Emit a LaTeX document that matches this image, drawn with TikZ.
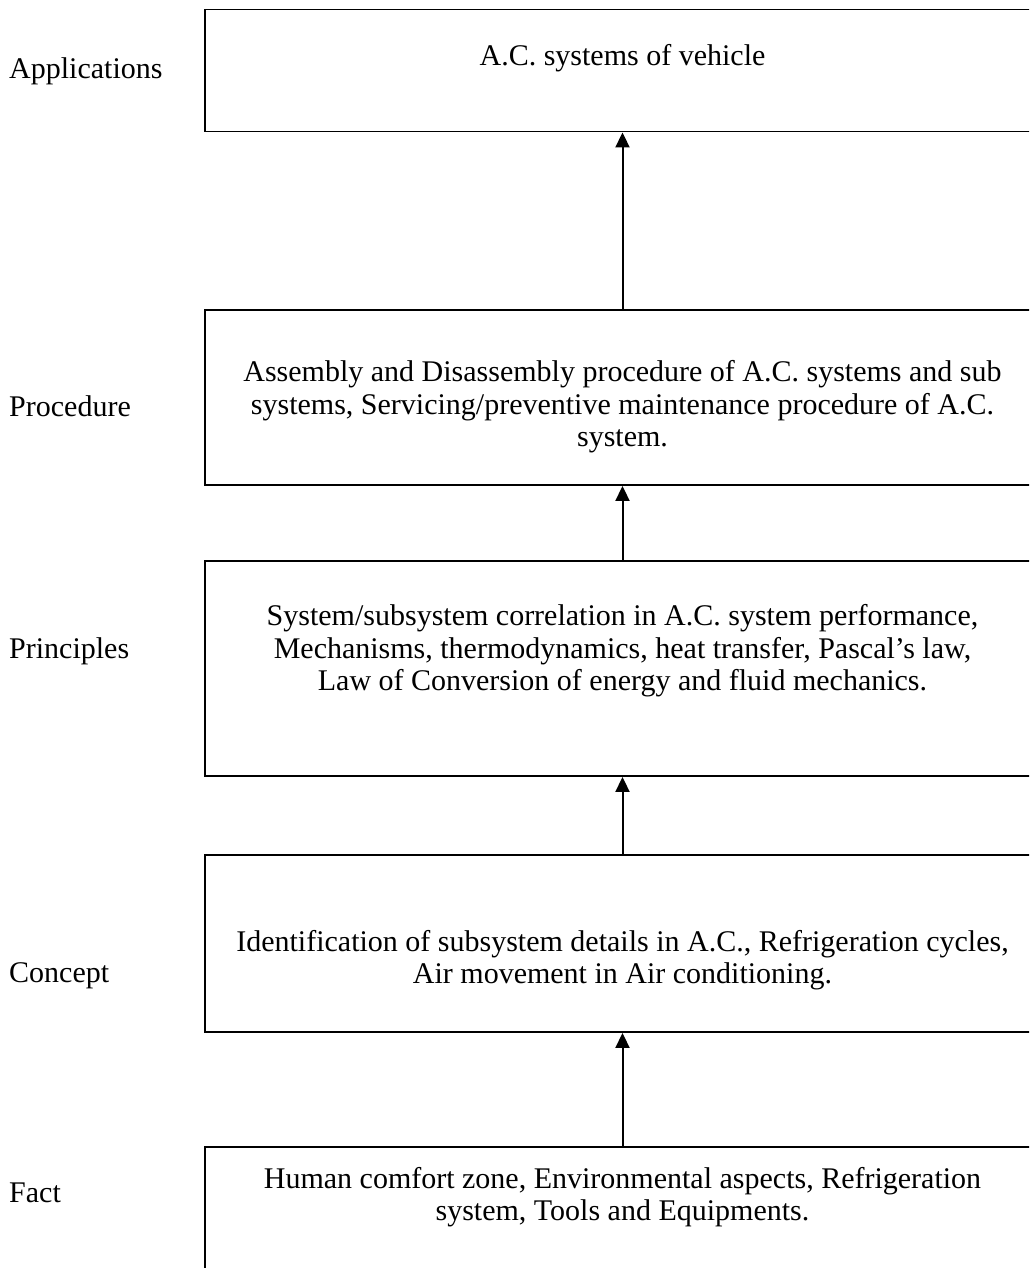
\documentclass[tikz,border=0pt]{standalone}
\usepackage{fontspec}
\setmainfont{Liberation Serif}
\usetikzlibrary{arrows.meta}
\tikzset{
  box/.style={draw=black, line width=1.9pt, rectangle, minimum width=835pt, inner sep=0pt},
  txt/.style={align=center, inner sep=0pt, font=\fontsize{30}{32.5}\selectfont},
  lbl/.style={anchor=west, inner sep=0pt, font=\fontsize{30}{32.5}\selectfont},
  conn/.style={line width=2pt, -{Triangle[width=14pt,length=15pt]}}
}
\begin{document}
\begin{tikzpicture}[x=1pt,y=-1pt]
\clip (0,0) rectangle (1029,1268);
\fill[white] (0,0) rectangle (1029,1268);
% boxes
\node[box, minimum height=122pt] (b1) at (622.5,70.5) {};
\node[box, minimum height=175pt] (b2) at (622.5,397.5) {};
\node[box, minimum height=215pt] (b3) at (622.5,668.5) {};
\node[box, minimum height=177pt] (b4) at (622.5,943.5) {};
\node[box, minimum height=153pt] (b5) at (622.5,1223.5) {};
% box texts
\node[txt] (t1) at (622.5,58) {A.C. systems of vehicle};
\node[txt] (t2) at (622.5,407) {Assembly and Disassembly procedure of A.C. systems and sub\\systems, Servicing/preventive maintenance procedure of A.C.\\system.};
\node[txt] (t3) at (622.5,651) {System/subsystem correlation in A.C. system performance,\\Mechanisms, thermodynamics, heat transfer, Pascal’s law,\\Law of Conversion of energy and fluid mechanics.};
\node[txt] (t4) at (622.5,960) {Identification of subsystem details in A.C., Refrigeration cycles,\\Air movement in Air conditioning.};
\node[txt] (t5) at (622.5,1197) {Human comfort zone, Environmental aspects, Refrigeration\\system, Tools and Equipments.};
% left labels
\node[lbl] (l1) at (9,71) {Applications};
\node[lbl] (l2) at (9,406) {Procedure};
\node[lbl] (l3) at (9,651) {Principles};
\node[lbl] (l4) at (9,976) {Concept};
\node[lbl] (l5) at (9,1193) {Fact};
% connectors
\draw[conn] (b2.north) -- (b1.south);
\draw[conn] (b3.north) -- (b2.south);
\draw[conn] (b4.north) -- (b3.south);
\draw[conn] (b5.north) -- (b4.south);
\end{tikzpicture}
\end{document}
